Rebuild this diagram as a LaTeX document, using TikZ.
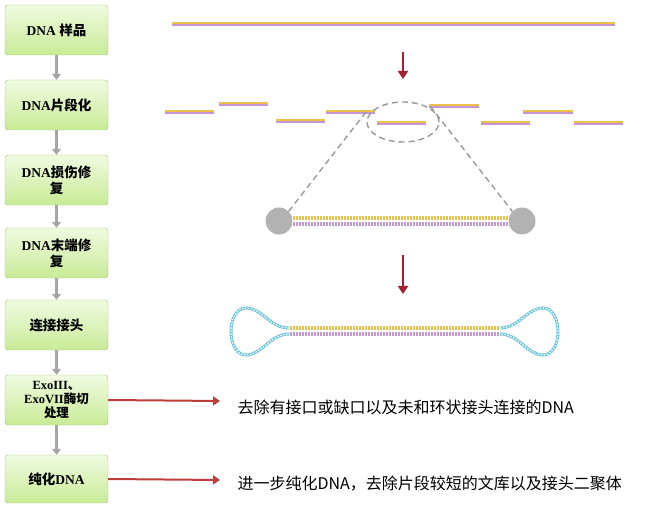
\documentclass[tikz,border=0pt]{standalone}
\usepackage{fontspec}
\setmainfont{Liberation Serif}
\newfontfamily\cjk{Noto Sans CJK SC}
\usetikzlibrary{arrows.meta,shadings}
\definecolor{yel}{HTML}{EDC04A}
\definecolor{pur}{HTML}{C596D2}
\definecolor{dred}{HTML}{A3202E}
\definecolor{hb}{HTML}{6FC6DE}
\definecolor{gbord}{HTML}{9DC46C}
\begin{document}
\begin{tikzpicture}[x=1pt,y=-1pt,
 box/.style={draw=gbord,rounded corners=3pt,top color={rgb,255:red,240;green,250;blue,225},bottom color={rgb,255:red,200;green,235;blue,150},minimum width=103pt,align=center,font=\bfseries\fontsize{13.5}{16}\selectfont,inner sep=1pt},
 garr/.style={-{Triangle[width=9pt,length=6pt]},draw={rgb,255:red,165;green,165;blue,165},line width=3pt},
 rarr/.style={-{Triangle[width=9pt,length=7pt]},draw={rgb,255:red,190;green,60;blue,60},line width=2pt},
 txt/.style={anchor=west,font=\cjk\fontsize{16}{18}\selectfont}]
\useasboundingbox (0,0) rectangle (649,510);
\newcommand\strand[3]{\draw[pur,line width=2.2pt] (#1,#3+2.4) -- (#2,#3+2.4); \draw[yel,line width=2.8pt] (#1,#3) -- (#2,#3);}
% left column
\node[box,minimum height=50pt] (b1) at (56.5,30) {DNA {\cjk 样品}};
\node[box,minimum height=50pt] (b2) at (56.5,105) {DNA{\cjk 片段化}};
\node[box,minimum height=50pt] (b3) at (56.5,180) {DNA{\cjk 损伤修}\\{\cjk 复}};
\node[box,minimum height=50pt] (b4) at (56.5,253) {DNA{\cjk 末端修}\\{\cjk 复}};
\node[box,minimum height=50pt] (b5) at (56.5,325) {{\cjk 连接接头}};
\node[box,minimum height=50pt,font=\bfseries\fontsize{12.5}{14}\selectfont] (b6) at (56.5,400) {ExoIII{\cjk 、}\\ExoVII{\cjk 酶切}\\{\cjk 处理}};
\node[box,minimum height=48pt] (b7) at (56.5,479) {{\cjk 纯化}DNA};
\foreach \a/\b in {b1/b2,b2/b3,b3/b4,b4/b5,b5/b6,b6/b7}
 \draw[garr] (\a.south) -- (\b.north);
% red arrows + text
\coordinate (e1) at (220,401);
\coordinate (e2) at (220,480);
\draw[rarr] (b6.east) -- (e1);
\draw[rarr] (b7.east) -- (e2);
\node[txt] (t1) at (234,407) {去除有接口或缺口以及未和环状接头连接的DNA};
\node[txt] (t2) at (234,484) {进一步纯化DNA，去除片段较短的文库以及接头二聚体};
% top strand
\strand{172}{615}{23}
\coordinate (a1s) at (403,52); \coordinate (a1e) at (403,79);
\draw[-{Triangle[width=10pt,length=8pt]},dred,line width=2.4pt] (a1s) -- (a1e);
% fragments
\strand{165}{214}{111}
\strand{219}{268}{103}
\strand{276}{325}{120}
\strand{326}{375}{111}
\strand{377}{426}{122}
\strand{429}{479}{105}
\strand{481}{530}{122}
\strand{523}{573}{111}
\strand{574}{623}{122}
% zoom ellipse and dashed lines
\draw[gray!80,line width=1.4pt,dash pattern=on 6pt off 4pt] (403,122) ellipse (36pt and 20pt);
\node[circle,fill=gray!60,minimum size=27pt,inner sep=0] (c1) at (279,221) {};
\node[circle,fill=gray!60,minimum size=27pt,inner sep=0] (c2) at (522,221) {};
\coordinate (el) at (366,112); \coordinate (er) at (430,106);
\draw[gray!80,line width=1.4pt,dash pattern=on 6pt off 4pt] (el) -- (c1.north east);
\draw[gray!80,line width=1.4pt,dash pattern=on 6pt off 4pt] (er) -- (c2.north west);
\draw[yel,line width=3.4pt] (292,218) -- (509,218);
\draw[pur,line width=3.4pt] (292,224) -- (509,224);
\draw[white,line width=3.4pt,dash pattern=on 0.5pt off 2.5pt] (292,218) -- (509,218);
\draw[white,line width=3.4pt,dash pattern=on 0.5pt off 2.5pt] (292,224) -- (509,224);
% second arrow
\coordinate (a2s) at (403,255); \coordinate (a2e) at (403,294);
\draw[-{Triangle[width=10pt,length=8pt]},dred,line width=2.4pt] (a2s) -- (a2e);
% hairpin
\draw[hb,line width=3pt] (289,328) .. controls (270,328) and (262,308) .. (246,308) .. controls (226,308) and (226,355) .. (246,355) .. controls (262,355) and (270,334) .. (289,334);
\draw[hb,line width=3pt] (500,328) .. controls (519,328) and (527,308) .. (543,308) .. controls (563,308) and (563,355) .. (543,355) .. controls (527,355) and (519,334) .. (500,334);
\draw[white,line width=1.2pt,dash pattern=on 1.5pt off 1.5pt] (289,328) .. controls (270,328) and (262,308) .. (246,308) .. controls (226,308) and (226,355) .. (246,355) .. controls (262,355) and (270,334) .. (289,334);
\draw[white,line width=1.2pt,dash pattern=on 1.5pt off 1.5pt] (500,328) .. controls (519,328) and (527,308) .. (543,308) .. controls (563,308) and (563,355) .. (543,355) .. controls (527,355) and (519,334) .. (500,334);
\draw[yel,line width=3.4pt] (289,328) -- (500,328);
\draw[pur,line width=3.4pt] (289,334) -- (500,334);
\draw[white,line width=3.4pt,dash pattern=on 0.5pt off 2.5pt] (289,328) -- (500,328);
\draw[white,line width=3.4pt,dash pattern=on 0.5pt off 2.5pt] (289,334) -- (500,334);
\end{tikzpicture}
\end{document}
